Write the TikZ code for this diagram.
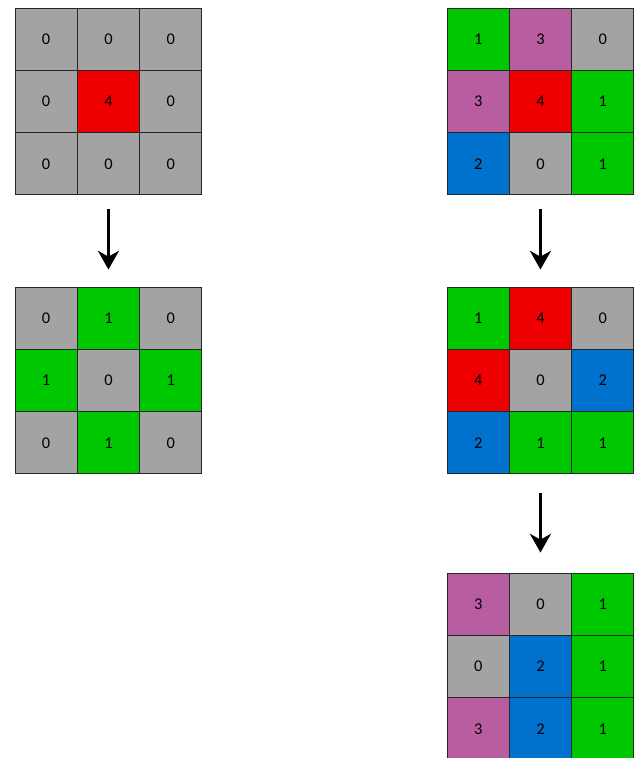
\documentclass[tikz,border=0pt]{standalone}
\usepackage{fontspec}
\setmainfont{Carlito}
\usetikzlibrary{arrows.meta}
\definecolor{gy}{RGB}{163,163,163}
\definecolor{rd}{RGB}{238,0,0}
\definecolor{gn}{RGB}{0,200,0}
\definecolor{pu}{RGB}{184,94,160}
\definecolor{bl}{RGB}{0,114,206}
\tikzset{
  cell/.style={draw=black!85,line width=0.8pt,minimum size=1.869cm,inner sep=0pt,
    font=\fontsize{14}{16}\selectfont},
  flow/.style={-{Stealth[length=16pt,width=18pt,inset=5pt]},line width=2.4pt}
}
% #1 name, #2 left, #3 top, #4 value/colour list
\newcommand{\cellgrid}[4]{%
  \foreach \v/\c [count=\i from 0] in {#4} {
    \pgfmathtruncatemacro{\row}{int(\i/3)+1}
    \pgfmathtruncatemacro{\col}{mod(\i,3)+1}
    \node[cell,fill=\c] (#1-\row-\col) at ({#2+31.15+62.3*(\col-1)},{#3+31.15+62.3*(\row-1)}) {\v};
  }}
\begin{document}
\begin{tikzpicture}[x=0.03cm,y=-0.03cm]
\useasboundingbox (0,0) rectangle (640,758);
% left column
\cellgrid{A}{15}{8}{0/gy,0/gy,0/gy,0/gy,4/rd,0/gy,0/gy,0/gy,0/gy}
\cellgrid{B}{15}{287}{0/gy,1/gn,0/gy,1/gn,0/gy,1/gn,0/gy,1/gn,0/gy}
% right column
\cellgrid{C}{447}{8}{1/gn,3/pu,0/gy,3/pu,4/rd,1/gn,2/bl,0/gy,1/gn}
\cellgrid{D}{447}{287}{1/gn,4/rd,0/gy,4/rd,0/gy,2/bl,2/bl,1/gn,1/gn}
\cellgrid{E}{447}{573}{3/pu,0/gy,1/gn,0/gy,2/bl,1/gn,3/pu,2/bl,1/gn}
% arrows
\draw[flow,shorten <=0.42cm,shorten >=0.51cm] (A-3-2.south) -- (B-1-2.north);
\draw[flow,shorten <=0.42cm,shorten >=0.51cm] (C-3-2.south) -- (D-1-2.north);
\draw[flow,shorten <=0.57cm,shorten >=0.6cm] (D-3-2.south) -- (E-1-2.north);
\end{tikzpicture}
\end{document}
